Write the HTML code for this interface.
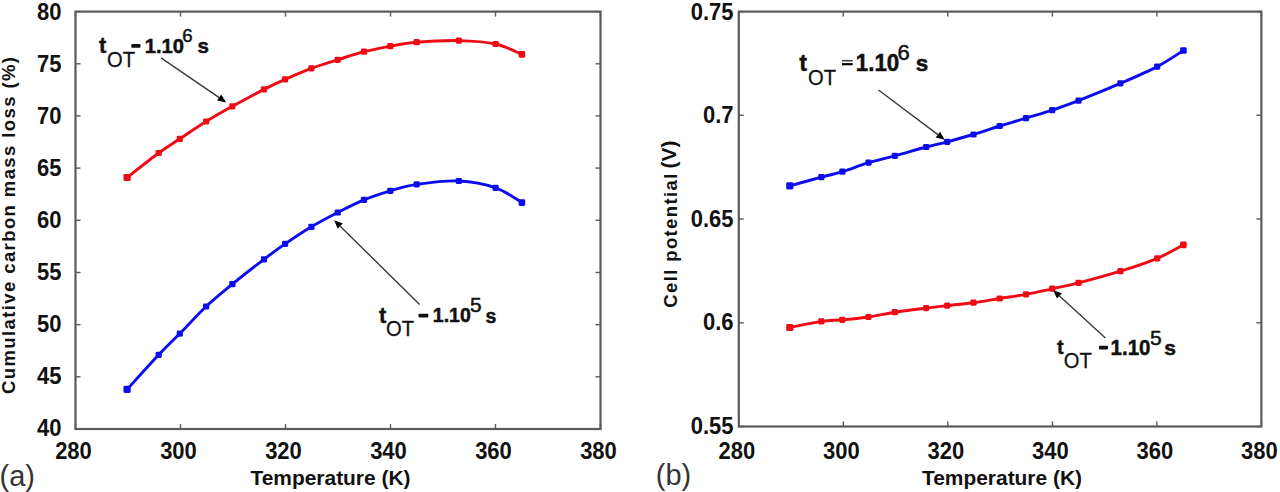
<!DOCTYPE html>
<html><head><meta charset="utf-8"><style>
html,body{margin:0;padding:0;background:#fff;}
body{width:1280px;height:492px;overflow:hidden;}
svg{display:block;}
text{font-family:"Liberation Sans",sans-serif;}
.tk{font-size:23.5px;font-weight:bold;fill:#111;}
.ti{font-size:20.5px;font-weight:bold;fill:#111;}
.tiy{font-size:18.5px;font-weight:bold;fill:#111;}
.an{font-size:19.5px;font-weight:bold;fill:#111;stroke:#111;stroke-width:0.5px;}
.at{font-weight:bold;fill:#111;stroke:#111;stroke-width:0.4px;}
.ot{font-size:22px;font-weight:normal;fill:#111;stroke:#111;stroke-width:0.3px;}
.sup{font-size:18.5px;font-weight:normal;fill:#111;stroke:#111;stroke-width:0.5px;}
.pl{font-size:29px;fill:#333;}
</style></head><body>
<svg width="1280" height="492" viewBox="0 0 1280 492">
<rect width="1280" height="492" fill="#fff"/>
<rect x="75.5" y="11.6" width="525.0" height="417.4" fill="none" stroke="#5a5a5a" stroke-width="2.2"/>
<line x1="75.5" y1="429.0" x2="75.5" y2="424.0" stroke="#5a5a5a" stroke-width="1.4"/><line x1="75.5" y1="11.6" x2="75.5" y2="16.6" stroke="#5a5a5a" stroke-width="1.4"/><text x="73.5" y="459.3" text-anchor="middle" class="tk" textLength="36.70" lengthAdjust="spacingAndGlyphs">280</text>
<line x1="180.5" y1="429.0" x2="180.5" y2="424.0" stroke="#5a5a5a" stroke-width="1.4"/><line x1="180.5" y1="11.6" x2="180.5" y2="16.6" stroke="#5a5a5a" stroke-width="1.4"/><text x="178.5" y="459.3" text-anchor="middle" class="tk" textLength="36.70" lengthAdjust="spacingAndGlyphs">300</text>
<line x1="285.5" y1="429.0" x2="285.5" y2="424.0" stroke="#5a5a5a" stroke-width="1.4"/><line x1="285.5" y1="11.6" x2="285.5" y2="16.6" stroke="#5a5a5a" stroke-width="1.4"/><text x="283.5" y="459.3" text-anchor="middle" class="tk" textLength="36.70" lengthAdjust="spacingAndGlyphs">320</text>
<line x1="390.5" y1="429.0" x2="390.5" y2="424.0" stroke="#5a5a5a" stroke-width="1.4"/><line x1="390.5" y1="11.6" x2="390.5" y2="16.6" stroke="#5a5a5a" stroke-width="1.4"/><text x="388.5" y="459.3" text-anchor="middle" class="tk" textLength="36.70" lengthAdjust="spacingAndGlyphs">340</text>
<line x1="495.5" y1="429.0" x2="495.5" y2="424.0" stroke="#5a5a5a" stroke-width="1.4"/><line x1="495.5" y1="11.6" x2="495.5" y2="16.6" stroke="#5a5a5a" stroke-width="1.4"/><text x="493.5" y="459.3" text-anchor="middle" class="tk" textLength="36.70" lengthAdjust="spacingAndGlyphs">360</text>
<line x1="600.5" y1="429.0" x2="600.5" y2="424.0" stroke="#5a5a5a" stroke-width="1.4"/><line x1="600.5" y1="11.6" x2="600.5" y2="16.6" stroke="#5a5a5a" stroke-width="1.4"/><text x="598.5" y="459.3" text-anchor="middle" class="tk" textLength="36.70" lengthAdjust="spacingAndGlyphs">380</text>
<line x1="75.5" y1="11.6" x2="80.5" y2="11.6" stroke="#5a5a5a" stroke-width="1.4"/><line x1="600.5" y1="11.6" x2="595.5" y2="11.6" stroke="#5a5a5a" stroke-width="1.4"/><text x="61.5" y="19.6" text-anchor="end" class="tk" textLength="24.46" lengthAdjust="spacingAndGlyphs">80</text>
<line x1="75.5" y1="63.8" x2="80.5" y2="63.8" stroke="#5a5a5a" stroke-width="1.4"/><line x1="600.5" y1="63.8" x2="595.5" y2="63.8" stroke="#5a5a5a" stroke-width="1.4"/><text x="61.5" y="71.7" text-anchor="end" class="tk" textLength="24.46" lengthAdjust="spacingAndGlyphs">75</text>
<line x1="75.5" y1="115.9" x2="80.5" y2="115.9" stroke="#5a5a5a" stroke-width="1.4"/><line x1="600.5" y1="115.9" x2="595.5" y2="115.9" stroke="#5a5a5a" stroke-width="1.4"/><text x="61.5" y="123.7" text-anchor="end" class="tk" textLength="24.46" lengthAdjust="spacingAndGlyphs">70</text>
<line x1="75.5" y1="168.1" x2="80.5" y2="168.1" stroke="#5a5a5a" stroke-width="1.4"/><line x1="600.5" y1="168.1" x2="595.5" y2="168.1" stroke="#5a5a5a" stroke-width="1.4"/><text x="61.5" y="175.8" text-anchor="end" class="tk" textLength="24.46" lengthAdjust="spacingAndGlyphs">65</text>
<line x1="75.5" y1="220.3" x2="80.5" y2="220.3" stroke="#5a5a5a" stroke-width="1.4"/><line x1="600.5" y1="220.3" x2="595.5" y2="220.3" stroke="#5a5a5a" stroke-width="1.4"/><text x="61.5" y="227.8" text-anchor="end" class="tk" textLength="24.46" lengthAdjust="spacingAndGlyphs">60</text>
<line x1="75.5" y1="272.5" x2="80.5" y2="272.5" stroke="#5a5a5a" stroke-width="1.4"/><line x1="600.5" y1="272.5" x2="595.5" y2="272.5" stroke="#5a5a5a" stroke-width="1.4"/><text x="61.5" y="279.9" text-anchor="end" class="tk" textLength="24.46" lengthAdjust="spacingAndGlyphs">55</text>
<line x1="75.5" y1="324.6" x2="80.5" y2="324.6" stroke="#5a5a5a" stroke-width="1.4"/><line x1="600.5" y1="324.6" x2="595.5" y2="324.6" stroke="#5a5a5a" stroke-width="1.4"/><text x="61.5" y="332.0" text-anchor="end" class="tk" textLength="24.46" lengthAdjust="spacingAndGlyphs">50</text>
<line x1="75.5" y1="376.8" x2="80.5" y2="376.8" stroke="#5a5a5a" stroke-width="1.4"/><line x1="600.5" y1="376.8" x2="595.5" y2="376.8" stroke="#5a5a5a" stroke-width="1.4"/><text x="61.5" y="384.0" text-anchor="end" class="tk" textLength="24.46" lengthAdjust="spacingAndGlyphs">45</text>
<line x1="75.5" y1="429.0" x2="80.5" y2="429.0" stroke="#5a5a5a" stroke-width="1.4"/><line x1="600.5" y1="429.0" x2="595.5" y2="429.0" stroke="#5a5a5a" stroke-width="1.4"/><text x="61.5" y="436.1" text-anchor="end" class="tk" textLength="24.46" lengthAdjust="spacingAndGlyphs">40</text>
<rect x="738.8" y="11.6" width="522.6" height="414.9" fill="none" stroke="#5a5a5a" stroke-width="2.2"/>
<line x1="738.8" y1="426.5" x2="738.8" y2="421.5" stroke="#5a5a5a" stroke-width="1.4"/><line x1="738.8" y1="11.6" x2="738.8" y2="16.6" stroke="#5a5a5a" stroke-width="1.4"/><text x="736.8" y="459.1" text-anchor="middle" class="tk" textLength="36.70" lengthAdjust="spacingAndGlyphs">280</text>
<line x1="843.3" y1="426.5" x2="843.3" y2="421.5" stroke="#5a5a5a" stroke-width="1.4"/><line x1="843.3" y1="11.6" x2="843.3" y2="16.6" stroke="#5a5a5a" stroke-width="1.4"/><text x="841.3" y="459.1" text-anchor="middle" class="tk" textLength="36.70" lengthAdjust="spacingAndGlyphs">300</text>
<line x1="947.8" y1="426.5" x2="947.8" y2="421.5" stroke="#5a5a5a" stroke-width="1.4"/><line x1="947.8" y1="11.6" x2="947.8" y2="16.6" stroke="#5a5a5a" stroke-width="1.4"/><text x="945.8" y="459.1" text-anchor="middle" class="tk" textLength="36.70" lengthAdjust="spacingAndGlyphs">320</text>
<line x1="1052.4" y1="426.5" x2="1052.4" y2="421.5" stroke="#5a5a5a" stroke-width="1.4"/><line x1="1052.4" y1="11.6" x2="1052.4" y2="16.6" stroke="#5a5a5a" stroke-width="1.4"/><text x="1050.4" y="459.1" text-anchor="middle" class="tk" textLength="36.70" lengthAdjust="spacingAndGlyphs">340</text>
<line x1="1156.9" y1="426.5" x2="1156.9" y2="421.5" stroke="#5a5a5a" stroke-width="1.4"/><line x1="1156.9" y1="11.6" x2="1156.9" y2="16.6" stroke="#5a5a5a" stroke-width="1.4"/><text x="1154.9" y="459.1" text-anchor="middle" class="tk" textLength="36.70" lengthAdjust="spacingAndGlyphs">360</text>
<line x1="1261.4" y1="426.5" x2="1261.4" y2="421.5" stroke="#5a5a5a" stroke-width="1.4"/><line x1="1261.4" y1="11.6" x2="1261.4" y2="16.6" stroke="#5a5a5a" stroke-width="1.4"/><text x="1259.4" y="459.1" text-anchor="middle" class="tk" textLength="36.70" lengthAdjust="spacingAndGlyphs">380</text>
<line x1="738.8" y1="11.6" x2="743.8" y2="11.6" stroke="#5a5a5a" stroke-width="1.4"/><line x1="1261.4" y1="11.6" x2="1256.4" y2="11.6" stroke="#5a5a5a" stroke-width="1.4"/><text x="733.5" y="19.6" text-anchor="end" class="tk" textLength="42.81" lengthAdjust="spacingAndGlyphs">0.75</text>
<line x1="738.8" y1="115.3" x2="743.8" y2="115.3" stroke="#5a5a5a" stroke-width="1.4"/><line x1="1261.4" y1="115.3" x2="1256.4" y2="115.3" stroke="#5a5a5a" stroke-width="1.4"/><text x="733.5" y="123.2" text-anchor="end" class="tk" textLength="30.58" lengthAdjust="spacingAndGlyphs">0.7</text>
<line x1="738.8" y1="219.0" x2="743.8" y2="219.0" stroke="#5a5a5a" stroke-width="1.4"/><line x1="1261.4" y1="219.0" x2="1256.4" y2="219.0" stroke="#5a5a5a" stroke-width="1.4"/><text x="733.5" y="226.8" text-anchor="end" class="tk" textLength="42.81" lengthAdjust="spacingAndGlyphs">0.65</text>
<line x1="738.8" y1="322.8" x2="743.8" y2="322.8" stroke="#5a5a5a" stroke-width="1.4"/><line x1="1261.4" y1="322.8" x2="1256.4" y2="322.8" stroke="#5a5a5a" stroke-width="1.4"/><text x="733.5" y="330.4" text-anchor="end" class="tk" textLength="30.58" lengthAdjust="spacingAndGlyphs">0.6</text>
<line x1="738.8" y1="426.5" x2="743.8" y2="426.5" stroke="#5a5a5a" stroke-width="1.4"/><line x1="1261.4" y1="426.5" x2="1256.4" y2="426.5" stroke="#5a5a5a" stroke-width="1.4"/><text x="733.5" y="434.0" text-anchor="end" class="tk" textLength="42.81" lengthAdjust="spacingAndGlyphs">0.55</text>
<path d="M127.1,177.5 C132.4,173.4 150.0,159.4 158.7,153.0 C167.5,146.6 171.9,144.1 179.8,138.8 C187.7,133.6 197.3,126.9 206.1,121.5 C214.9,116.1 222.8,111.6 232.4,106.3 C242.1,101.0 255.2,93.9 264.0,89.4 C272.8,84.9 277.2,82.9 285.1,79.4 C293.0,75.9 302.6,71.7 311.4,68.4 C320.2,65.1 328.9,62.6 337.7,59.8 C346.5,57.0 355.2,54.0 364.0,51.7 C372.8,49.4 381.6,47.8 390.3,46.2 C399.1,44.6 405.3,43.1 416.7,42.2 C428.1,41.3 445.6,40.3 458.8,40.6 C471.9,40.9 485.1,41.7 495.6,44.0 C506.1,46.3 517.6,52.7 521.9,54.4" fill="none" stroke="#f00a14" stroke-width="2.9" stroke-linejoin="round"/>
<rect x="123.5" y="173.9" width="7.2" height="7.2" rx="1.4" fill="#f00a14"/><rect x="155.6" y="149.9" width="6.2" height="6.2" rx="1.4" fill="#f00a14"/><rect x="176.7" y="135.7" width="6.2" height="6.2" rx="1.4" fill="#f00a14"/><rect x="203.0" y="118.4" width="6.2" height="6.2" rx="1.4" fill="#f00a14"/><rect x="229.3" y="103.2" width="6.2" height="6.2" rx="1.4" fill="#f00a14"/><rect x="260.9" y="86.3" width="6.2" height="6.2" rx="1.4" fill="#f00a14"/><rect x="282.0" y="76.3" width="6.2" height="6.2" rx="1.4" fill="#f00a14"/><rect x="308.3" y="65.3" width="6.2" height="6.2" rx="1.4" fill="#f00a14"/><rect x="334.6" y="56.7" width="6.2" height="6.2" rx="1.4" fill="#f00a14"/><rect x="360.9" y="48.6" width="6.2" height="6.2" rx="1.4" fill="#f00a14"/><rect x="387.2" y="43.1" width="6.2" height="6.2" rx="1.4" fill="#f00a14"/><rect x="413.6" y="39.1" width="6.2" height="6.2" rx="1.4" fill="#f00a14"/><rect x="455.7" y="37.5" width="6.2" height="6.2" rx="1.4" fill="#f00a14"/><rect x="492.5" y="40.9" width="6.2" height="6.2" rx="1.4" fill="#f00a14"/><rect x="518.6" y="51.1" width="6.6" height="6.6" rx="1.4" fill="#f00a14"/>
<path d="M127.1,389.4 C132.4,383.6 150.0,364.1 158.7,354.8 C167.5,345.5 171.9,341.7 179.8,333.6 C187.7,325.6 197.3,314.8 206.1,306.5 C214.9,298.2 222.8,292.0 232.4,284.1 C242.1,276.2 255.2,266.0 264.0,259.3 C272.8,252.6 277.2,249.3 285.1,243.9 C293.0,238.5 302.6,232.0 311.4,226.8 C320.2,221.6 328.9,217.0 337.7,212.5 C346.5,208.0 355.2,203.5 364.0,199.9 C372.8,196.3 381.6,193.5 390.3,190.9 C399.1,188.3 405.3,186.1 416.7,184.4 C428.1,182.8 445.6,180.4 458.8,181.0 C471.9,181.6 485.1,184.2 495.6,187.8 C506.1,191.4 517.6,200.1 521.9,202.6" fill="none" stroke="#0c0cf0" stroke-width="2.9" stroke-linejoin="round"/>
<rect x="123.5" y="385.8" width="7.2" height="7.2" rx="1.4" fill="#0c0cf0"/><rect x="155.6" y="351.7" width="6.2" height="6.2" rx="1.4" fill="#0c0cf0"/><rect x="176.7" y="330.5" width="6.2" height="6.2" rx="1.4" fill="#0c0cf0"/><rect x="203.0" y="303.4" width="6.2" height="6.2" rx="1.4" fill="#0c0cf0"/><rect x="229.3" y="281.0" width="6.2" height="6.2" rx="1.4" fill="#0c0cf0"/><rect x="260.9" y="256.2" width="6.2" height="6.2" rx="1.4" fill="#0c0cf0"/><rect x="282.0" y="240.8" width="6.2" height="6.2" rx="1.4" fill="#0c0cf0"/><rect x="308.3" y="223.7" width="6.2" height="6.2" rx="1.4" fill="#0c0cf0"/><rect x="334.6" y="209.4" width="6.2" height="6.2" rx="1.4" fill="#0c0cf0"/><rect x="360.9" y="196.8" width="6.2" height="6.2" rx="1.4" fill="#0c0cf0"/><rect x="387.2" y="187.8" width="6.2" height="6.2" rx="1.4" fill="#0c0cf0"/><rect x="413.6" y="181.3" width="6.2" height="6.2" rx="1.4" fill="#0c0cf0"/><rect x="455.7" y="177.9" width="6.2" height="6.2" rx="1.4" fill="#0c0cf0"/><rect x="492.5" y="184.7" width="6.2" height="6.2" rx="1.4" fill="#0c0cf0"/><rect x="518.6" y="199.3" width="6.6" height="6.6" rx="1.4" fill="#0c0cf0"/>
<path d="M789.8,185.9 C795.0,184.4 812.5,179.6 821.3,177.2 C830.0,174.8 834.4,174.1 842.3,171.7 C850.1,169.3 859.8,165.2 868.5,162.6 C877.3,159.9 885.1,158.4 894.8,155.8 C904.4,153.2 917.5,149.3 926.2,147.0 C935.0,144.7 939.4,143.9 947.2,141.8 C955.1,139.7 964.7,137.1 973.5,134.5 C982.2,131.9 991.0,128.7 999.7,126.0 C1008.5,123.3 1017.2,120.9 1026.0,118.2 C1034.7,115.5 1043.5,113.0 1052.2,110.1 C1061.0,107.2 1067.1,105.0 1078.5,100.6 C1089.8,96.1 1107.3,89.1 1120.4,83.4 C1133.6,77.7 1146.7,72.1 1157.2,66.6 C1167.7,61.1 1179.0,53.2 1183.4,50.5" fill="none" stroke="#0c0cf0" stroke-width="2.9" stroke-linejoin="round"/>
<rect x="786.2" y="182.3" width="7.2" height="7.2" rx="1.4" fill="#0c0cf0"/><rect x="818.2" y="174.1" width="6.2" height="6.2" rx="1.4" fill="#0c0cf0"/><rect x="839.2" y="168.6" width="6.2" height="6.2" rx="1.4" fill="#0c0cf0"/><rect x="865.4" y="159.5" width="6.2" height="6.2" rx="1.4" fill="#0c0cf0"/><rect x="891.7" y="152.7" width="6.2" height="6.2" rx="1.4" fill="#0c0cf0"/><rect x="923.1" y="143.9" width="6.2" height="6.2" rx="1.4" fill="#0c0cf0"/><rect x="944.1" y="138.7" width="6.2" height="6.2" rx="1.4" fill="#0c0cf0"/><rect x="970.4" y="131.4" width="6.2" height="6.2" rx="1.4" fill="#0c0cf0"/><rect x="996.6" y="122.9" width="6.2" height="6.2" rx="1.4" fill="#0c0cf0"/><rect x="1022.9" y="115.1" width="6.2" height="6.2" rx="1.4" fill="#0c0cf0"/><rect x="1049.1" y="107.0" width="6.2" height="6.2" rx="1.4" fill="#0c0cf0"/><rect x="1075.4" y="97.5" width="6.2" height="6.2" rx="1.4" fill="#0c0cf0"/><rect x="1117.3" y="80.3" width="6.2" height="6.2" rx="1.4" fill="#0c0cf0"/><rect x="1154.1" y="63.5" width="6.2" height="6.2" rx="1.4" fill="#0c0cf0"/><rect x="1180.1" y="47.2" width="6.6" height="6.6" rx="1.4" fill="#0c0cf0"/>
<path d="M789.8,327.5 C795.0,326.5 812.5,322.7 821.3,321.4 C830.0,320.1 834.4,320.5 842.3,319.8 C850.1,319.1 859.8,318.3 868.5,317.0 C877.3,315.7 885.1,313.7 894.8,312.2 C904.4,310.8 917.5,309.2 926.2,308.1 C935.0,307.0 939.4,306.5 947.2,305.6 C955.1,304.7 964.7,303.9 973.5,302.8 C982.2,301.6 991.0,299.9 999.7,298.5 C1008.5,297.1 1017.2,296.0 1026.0,294.4 C1034.7,292.8 1043.5,290.7 1052.2,288.8 C1061.0,286.8 1067.1,285.8 1078.5,282.9 C1089.8,280.0 1107.3,275.3 1120.4,271.2 C1133.6,267.2 1146.7,262.8 1157.2,258.4 C1167.7,254.0 1179.0,247.2 1183.4,244.9" fill="none" stroke="#f00a14" stroke-width="2.9" stroke-linejoin="round"/>
<rect x="786.2" y="323.9" width="7.2" height="7.2" rx="1.4" fill="#f00a14"/><rect x="818.2" y="318.3" width="6.2" height="6.2" rx="1.4" fill="#f00a14"/><rect x="839.2" y="316.7" width="6.2" height="6.2" rx="1.4" fill="#f00a14"/><rect x="865.4" y="313.9" width="6.2" height="6.2" rx="1.4" fill="#f00a14"/><rect x="891.7" y="309.1" width="6.2" height="6.2" rx="1.4" fill="#f00a14"/><rect x="923.1" y="305.0" width="6.2" height="6.2" rx="1.4" fill="#f00a14"/><rect x="944.1" y="302.5" width="6.2" height="6.2" rx="1.4" fill="#f00a14"/><rect x="970.4" y="299.6" width="6.2" height="6.2" rx="1.4" fill="#f00a14"/><rect x="996.6" y="295.4" width="6.2" height="6.2" rx="1.4" fill="#f00a14"/><rect x="1022.9" y="291.3" width="6.2" height="6.2" rx="1.4" fill="#f00a14"/><rect x="1049.1" y="285.6" width="6.2" height="6.2" rx="1.4" fill="#f00a14"/><rect x="1075.4" y="279.8" width="6.2" height="6.2" rx="1.4" fill="#f00a14"/><rect x="1117.3" y="268.1" width="6.2" height="6.2" rx="1.4" fill="#f00a14"/><rect x="1154.1" y="255.3" width="6.2" height="6.2" rx="1.4" fill="#f00a14"/><rect x="1180.1" y="241.6" width="6.6" height="6.6" rx="1.4" fill="#f00a14"/>
<line x1="161.0" y1="57.9" x2="219.2" y2="97.6" stroke="#3a3a3a" stroke-width="1.4"/><polygon points="226.2,102.4 217.1,100.6 221.2,94.6" fill="#000"/>
<line x1="419.6" y1="304.5" x2="340.2" y2="226.2" stroke="#3a3a3a" stroke-width="1.4"/><polygon points="334.2,220.2 342.8,223.6 337.7,228.7" fill="#000"/>
<line x1="878.5" y1="90.0" x2="937.9" y2="134.6" stroke="#3a3a3a" stroke-width="1.4"/><polygon points="944.7,139.7 935.7,137.5 940.1,131.7" fill="#000"/>
<line x1="1105.4" y1="337.9" x2="1059.5" y2="295.9" stroke="#3a3a3a" stroke-width="1.4"/><polygon points="1053.2,290.2 1061.9,293.3 1057.0,298.6" fill="#000"/>
<text x="99.0" y="53.0" class="at" style="font-size:22.0px">t</text><text x="107.0" y="66.5" class="ot" textLength="28" lengthAdjust="spacingAndGlyphs">OT</text><rect x="131.3" y="44.1" width="9.2" height="3.6" rx="0.8" fill="#111"/><text x="144.8" y="52.6" class="an" style="font-size:20.4px" textLength="39.2" lengthAdjust="spacingAndGlyphs">1.10</text><text x="182.2" y="41.5" class="sup" style="font-size:18.5px">6</text><text x="197.5" y="53.0" class="an" style="font-size:20.5px">s</text>
<text x="379.0" y="322.5" class="at" style="font-size:22.0px">t</text><text x="386.0" y="335.5" class="ot" textLength="28" lengthAdjust="spacingAndGlyphs">OT</text><rect x="418.5" y="313.8" width="9.8" height="3.6" rx="0.8" fill="#111"/><text x="432.8" y="321.7" class="an" style="font-size:20.8px" textLength="38.0" lengthAdjust="spacingAndGlyphs">1.10</text><text x="470.0" y="311.9" class="sup" style="font-size:20.8px">5</text><text x="485.5" y="322.5" class="an" style="font-size:19.5px">s</text>
<text x="799.3" y="71.0" class="at" style="font-size:23.5px">t</text><text x="808.0" y="85.0" class="ot" textLength="28" lengthAdjust="spacingAndGlyphs">OT</text><rect x="842.0" y="59.9" width="10.7" height="1.6" fill="#444"/><rect x="842.0" y="63.1" width="10.7" height="2.2" fill="#000"/><text x="855.8" y="71.0" class="an" style="font-size:23.2px" textLength="43.5" lengthAdjust="spacingAndGlyphs">1.10</text><text x="897.5" y="60.0" class="sup" style="font-size:22.0px">6</text><text x="915.8" y="71.0" class="an" style="font-size:22.5px">s</text>
<text x="1057.0" y="354.0" class="at" style="font-size:20.0px">t</text><text x="1063.8" y="368.0" class="ot" textLength="28" lengthAdjust="spacingAndGlyphs">OT</text><rect x="1099.0" y="345.8" width="9.0" height="3.6" rx="0.8" fill="#111"/><text x="1110.6" y="354.9" class="an" style="font-size:22.5px" textLength="39.8" lengthAdjust="spacingAndGlyphs">1.10</text><text x="1149.9" y="345.0" class="sup" style="font-size:21.0px">5</text><text x="1164.3" y="355.0" class="an" style="font-size:21.0px">s</text>
<text x="250.5" y="485.3" class="ti" textLength="160" lengthAdjust="spacingAndGlyphs">Temperature (K)</text>
<text x="922" y="484.5" class="ti" textLength="160" lengthAdjust="spacingAndGlyphs">Temperature (K)</text>
<text transform="translate(14.5,394) rotate(-90)" class="tiy" textLength="337" lengthAdjust="spacing">Cumulative carbon mass loss (%)</text>
<text transform="translate(676.8,307.7) rotate(-90)" class="tiy" textLength="134" lengthAdjust="spacing">Cell potential</text>
<text transform="translate(676.3,168.6) rotate(-90)" class="tiy" style="font-size:20.5px" textLength="28" lengthAdjust="spacingAndGlyphs">(V)</text>
<text x="-0.5" y="486" class="pl">(a)</text>
<text x="655.8" y="485" class="pl">(b)</text>
</svg>
</body></html>
